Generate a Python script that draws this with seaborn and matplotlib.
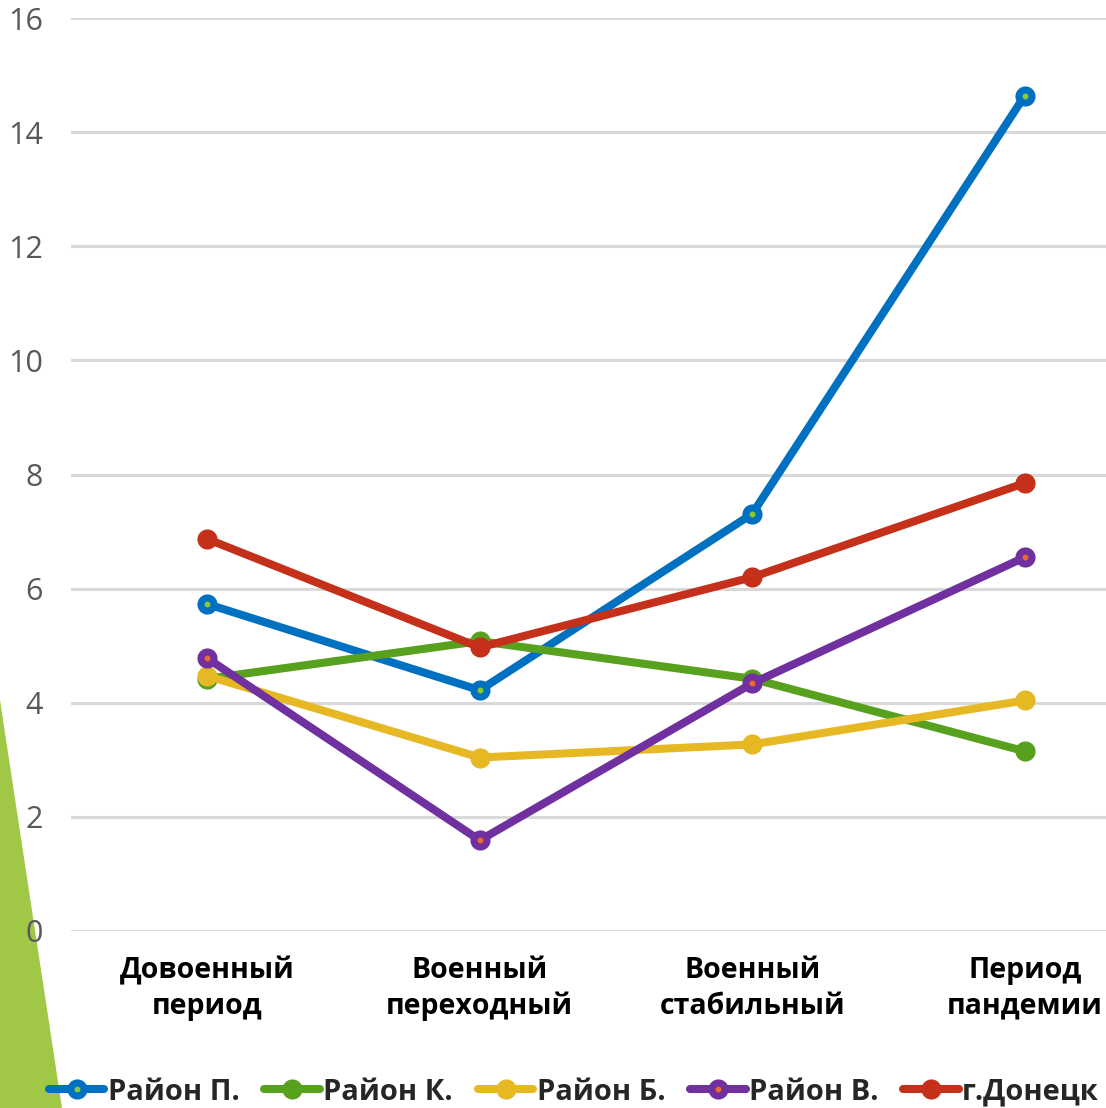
import matplotlib
matplotlib.use("Agg")
import matplotlib.pyplot as plt
from matplotlib.lines import Line2D
from matplotlib.patches import Polygon
from matplotlib.legend_handler import HandlerTuple
import seaborn as sns
import pandas as pd

periods = ["Довоенный\nпериод", "Военный\nпереходный", "Военный\nстабильный", "Период\nпандемии"]
districts = ["Район П.", "Район К.", "Район Б.", "Район В.", "г.Донецк"]

rayon_p = [5.73, 4.22, 7.31, 14.64]
rayon_k = [4.42, 5.08, 4.42, 3.15]
rayon_b = [4.47, 3.04, 3.27, 4.04]
rayon_v = [4.78, 1.59, 4.34, 6.55]
donetsk = [6.87, 4.97, 6.20, 7.85]

y_ticks = [0, 2, 4, 6, 8, 10, 12, 14, 16]

colors = ["#0070C0", "#57A11F", "#E6B823", "#7030A0", "#C5301A"]
# small inner dots on two of the series
inner_dot = {"Район П.": "#8CCB2E", "Район В.": "#ED6A2B"}

series = [rayon_p, rayon_k, rayon_b, rayon_v, donetsk]
df = pd.DataFrame({
    "period": [p for _ in districts for p in periods],
    "district": [d for d in districts for _ in periods],
    "value": [v for s in series for v in s],
})

sns.set_theme(style="white")
plt.rcParams["font.family"] = ["Open Sans", "DejaVu Sans"]
bold_family = ["Open Sans", "DejaVu Sans"]

fig = plt.figure(figsize=(11.06, 11.08), dpi=100)

# decorative green wedge in the lower-left corner
wedge = Polygon([(0, 1 - 700 / 1108), (62 / 1106, 0), (0, 0)], closed=True,
                transform=fig.transFigure, facecolor="#A0C846", edgecolor="none", zorder=-5)
fig.patches.append(wedge)

ax = fig.add_axes([71 / 1106, (1108 - 931) / 1108, 1090 / 1106, 913 / 1108])
ax.set_zorder(2)
ax.patch.set_alpha(0)

lw = 5.8
ms = 14.5
sns.lineplot(data=df, x="period", y="value", hue="district", hue_order=districts,
             palette=colors, style="district", markers=["o"] * 5, dashes=False,
             linewidth=lw, markersize=ms, markeredgewidth=0, sort=False,
             legend=False, ax=ax)

for name, col in inner_dot.items():
    sub = df[df["district"] == name]
    sns.scatterplot(data=sub, x="period", y="value", color=col, s=18, linewidth=0,
                    zorder=5, legend=False, ax=ax)

ax.set_xlim(-0.5, 3.5)
ax.set_ylim(0, 16)
ax.set_yticks(y_ticks)
ax.set_yticklabels([str(t) for t in y_ticks], family=["Liberation Sans Narrow", "Open Sans", "DejaVu Sans"],
                   fontsize=22, color="#595959")
ax.set_xticks(range(len(periods)))
ax.set_xticklabels(periods, family=bold_family, fontweight="bold", fontsize=20.5,
                   color="black", linespacing=1.3)
ax.set_xlabel("")
ax.set_ylabel("")
ax.grid(axis="y", color="#D9D9D9", linewidth=2.2)
ax.grid(axis="x", visible=False)
ax.set_axisbelow(True)
for sp in ax.spines.values():
    sp.set_visible(False)
ax.tick_params(axis="both", length=0)
ax.tick_params(axis="y", pad=20)
ax.tick_params(axis="x", pad=18)

handles = []
for name, col in zip(districts, colors):
    base = Line2D([], [], color=col, linewidth=lw, marker="o", markersize=ms, markeredgewidth=0)
    if name in inner_dot:
        dot = Line2D([], [], linestyle="none", marker="o", markersize=4.2,
                     markerfacecolor=inner_dot[name], markeredgewidth=0)
        handles.append((base, dot))
    else:
        handles.append(base)

leg = fig.legend(handles, districts, loc="center", bbox_to_anchor=(574 / 1106, 16 / 1108),
                 ncol=5, frameon=False, handlelength=1.9, handletextpad=0.12,
                 columnspacing=0.85, borderaxespad=0, borderpad=0,
                 handler_map={tuple: HandlerTuple(ndivide=1, pad=0)},
                 prop={"size": 21, "weight": "bold", "family": bold_family})

fig.savefig("out.png", dpi=100)
